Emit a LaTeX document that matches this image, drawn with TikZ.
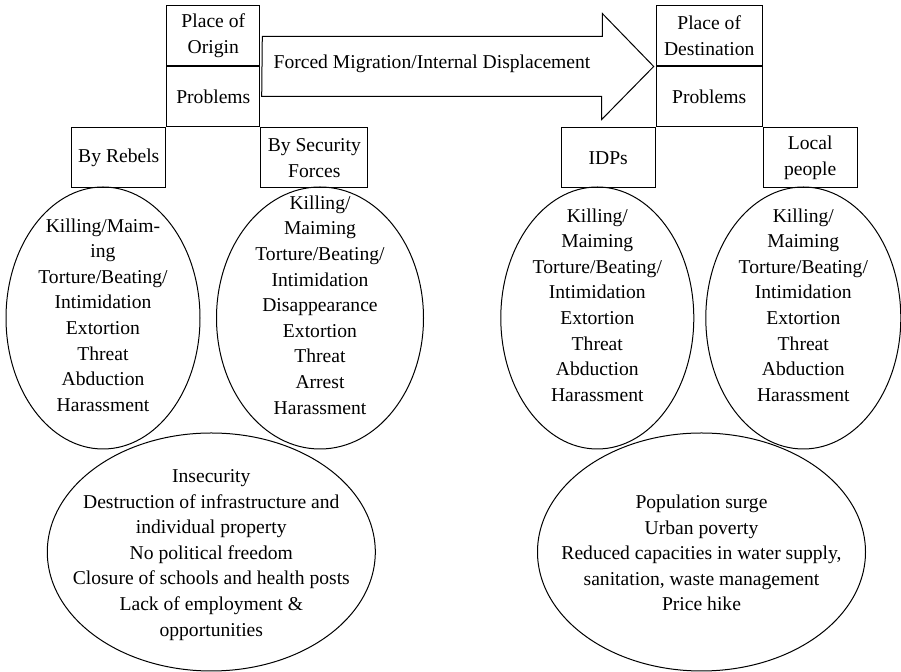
\documentclass[tikz,border=0pt]{standalone}
\usepackage{fontspec}
\setmainfont{Liberation Serif}
\usepackage{tikz}
\usetikzlibrary{positioning,shapes.geometric}

\newcommand{\diagfont}{\fontsize{9.8}{12.8}\selectfont}

\begin{document}
\begin{tikzpicture}[x=0.5pt, y=-0.5pt, line width=0.5pt,
    box/.style={draw, align=center, inner sep=0pt, minimum height=30pt, font=\diagfont},
    blob/.style={draw, ellipse, inner sep=0pt},
    list/.style={align=center, inner sep=0pt, font=\diagfont}]

            \useasboundingbox (0,0) rectangle (901,672);

            % place of origin
            \node[box, minimum width=46.5pt] (orig) at (213.3,36) {Place of\\Origin};
            \node[box, minimum width=46.5pt, below=0pt of orig] (probO) {Problems};
            \node[box, minimum width=47pt, below left=0pt of probO.south west] (rebels) {By Rebels};
            \node[box, minimum width=53.5pt, below right=0pt of probO.south east] (secf) {By Security\\Forces};

            % place of destination
            \node[box, minimum width=53pt] (dest) at (709.2,36) {Place of\\Destination};
            \node[box, minimum width=53pt, below=0pt of dest] (probD) {Problems};
            \node[box, minimum width=47pt, below left=0pt of probD.south west] (idps) {IDPs};
            \node[box, minimum width=47pt, below right=0pt of probD.south east] (locals) {Local\\people};

            % the big arrow
            \coordinate[right=1pt of probO.north east] (tail);
            \coordinate[left=1pt of probD.north west] (tip);
            \draw (tail) ++(0,-30) -- ++(340,0) -- ++(0,-23) -- (tip)
                -- ++(-52,53) -- ++(0,-23) -- ++(-340,0) -- cycle;
            \node[list] (flow) at (432,64) {Forced Migration/Internal Displacement};

            % small ellipses
            \node[blob, minimum width=97pt, minimum height=131pt] (rebE) at (103,318) {};
            \node[blob, minimum width=103.5pt, minimum height=131pt] (secE) at (320,318) {};
            \node[blob, minimum width=96.5pt, minimum height=131pt] (idpE) at (597.3,318) {};
            \node[blob, minimum width=97.5pt, minimum height=131pt] (locE) at (803.3,318) {};

            \node[list] (rebT) at (103,315) {Killing/Maim-\\ing\\Torture/Beating/\\Intimidation\\Extortion\\Threat\\Abduction\\Harassment};
            \node[list] (secT) at (320,305) {Killing/\\Maiming\\Torture/Beating/\\Intimidation\\Disappearance\\Extortion\\Threat\\Arrest\\Harassment};
            \node[list] (idpT) at (597.3,305) {Killing/\\Maiming\\Torture/Beating/\\Intimidation\\Extortion\\Threat\\Abduction\\Harassment};
            \node[list] (locT) at (803.3,305) {Killing/\\Maiming\\Torture/Beating/\\Intimidation\\Extortion\\Threat\\Abduction\\Harassment};

            % big ellipses
            \node[blob, minimum width=164pt, minimum height=119pt] (origE) at (211.3,552) {};
            \node[blob, minimum width=164pt, minimum height=119pt] (destE) at (701.5,552) {};

            \node[list] (origT) at (211.3,555) {Insecurity\\Destruction of infrastructure and\\individual property\\No political freedom\\Closure of schools and health posts\\Lack of employment \&\\opportunities};
            \node[list] (destT) at (701.5,553) {Population surge\\Urban poverty\\Reduced capacities in water supply,\\sanitation, waste management\\Price hike};

\end{tikzpicture}
\end{document}
